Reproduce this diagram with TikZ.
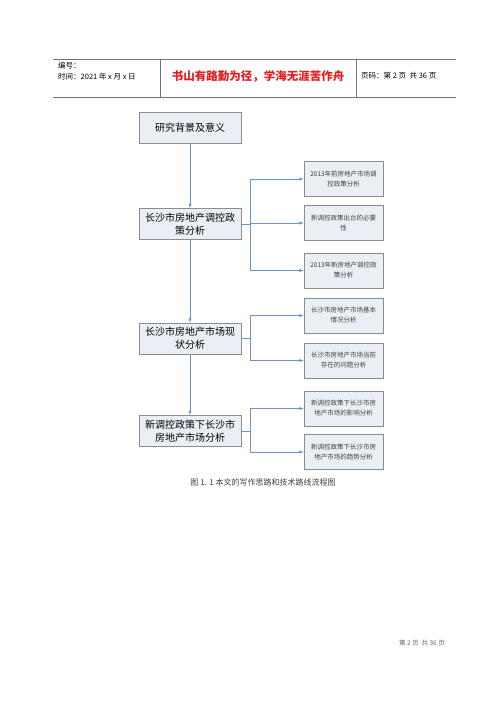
\documentclass[tikz,border=0pt]{standalone}
\usepackage{fontspec}
\setmainfont{Noto Sans CJK SC}
\usetikzlibrary{arrows}

\definecolor{boxfill}{RGB}{234,238,245}
\definecolor{boxline}{RGB}{140,140,140}
\definecolor{linkblue}{RGB}{110,145,200}
\definecolor{headred}{RGB}{225,30,30}

\begin{document}
\begin{tikzpicture}[
  x=1pt, y=-1pt,
  every node/.style={inner sep=1pt},
  mainbox/.style={draw=boxline, fill=boxfill, line width=0.6pt, align=center, minimum width=102pt, minimum height=31pt, font=\fontsize{10}{13}\selectfont},
  subbox/.style={draw=boxline, fill=boxfill, line width=0.6pt, align=center, minimum width=79pt, minimum height=35pt, font=\fontsize{6.5}{10}\selectfont, text=black!75},
  link/.style={draw=linkblue, line width=0.5pt},
  headline/.style={draw=black!55, line width=0.8pt},
  >=latex
]
\useasboundingbox[fill=white] (0,0) rectangle (500,707);

% --- en-tete de page ---
\draw[headline] (53,59) -- (456,59);
\draw[headline] (53,97) -- (456,97);
\draw[headline] (160,59) -- (160,97);
\draw[headline] (356,59) -- (356,97);
\node[anchor=west, font=\fontsize{7.5}{9}\selectfont] (num) at (57,66) {编号：};
\node[anchor=west, font=\fontsize{7.5}{9}\selectfont] (date) at (57,77) {时间：2021 年 x 月 x 日};
\node[font=\fontsize{11.5}{13}\selectfont\bfseries, text=headred] (motto) at (258,76) {书山有路勤为径，学海无涯苦作舟};
\node[anchor=west, font=\fontsize{7.5}{9}\selectfont] (page) at (360,76) {页码：第 2 页 \ 共 36 页};

% --- colonne principale ---
\node[mainbox] (bg)     at (190,127.5) {研究背景及意义};
\node[mainbox] (policy) at (190,224)   {长沙市房地产调控政\\策分析};
\node[mainbox] (status) at (190,338.5) {长沙市房地产市场现\\状分析};
\node[mainbox] (impact) at (190,431)   {新调控政策下长沙市\\房地产市场分析};

\draw[link, ->] (bg) -- (policy);
\draw[link, ->] (policy) -- (status);
\draw[link, ->] (status) -- (impact);

% --- sous-points ---
\node[subbox] (p1) at (343.5,179)   {2013年前房地产市场调\\控政策分析};
\node[subbox] (p2) at (343.5,223)   {新调控政策出台的必要\\性};
\node[subbox] (p3) at (343.5,270.5) {2013年新房地产调控政\\策分析};
\node[subbox] (s1) at (343.5,315.5) {长沙市房地产市场基本\\情况分析};
\node[subbox] (s2) at (343.5,360.5) {长沙市房地产市场当前\\存在的问题分析};
\node[subbox] (i1) at (343.5,408.5) {新调控政策下长沙市房\\地产市场的影响分析};
\node[subbox] (i2) at (343.5,452)   {新调控政策下长沙市房\\地产市场的趋势分析};

\coordinate (jp) at (250,224);
\coordinate (js) at (250,338.5);
\coordinate (ji) at (250,431);

\draw[link] (policy) -- (jp);
\draw[link, ->] (jp) |- (p1);
\draw[link, ->] (jp) |- (p2);
\draw[link, ->] (jp) |- (p3);

\draw[link] (status) -- (js);
\draw[link, ->] (js) |- (s1);
\draw[link, ->] (js) |- (s2);

\draw[link] (impact) -- (ji);
\draw[link, ->] (ji) |- (i1);
\draw[link, ->] (ji) |- (i2);

% --- legende et pied de page ---
\node[font=\fontsize{8}{10}\selectfont, text=black!75] (caption) at (263,482) {图 1. 1 本文的写作思路和技术路线流程图};
\node[font=\fontsize{6.5}{8}\selectfont, text=black!60] (foot) at (422,643) {第 2 页 \ 共 36 页};

\end{tikzpicture}
\end{document}
